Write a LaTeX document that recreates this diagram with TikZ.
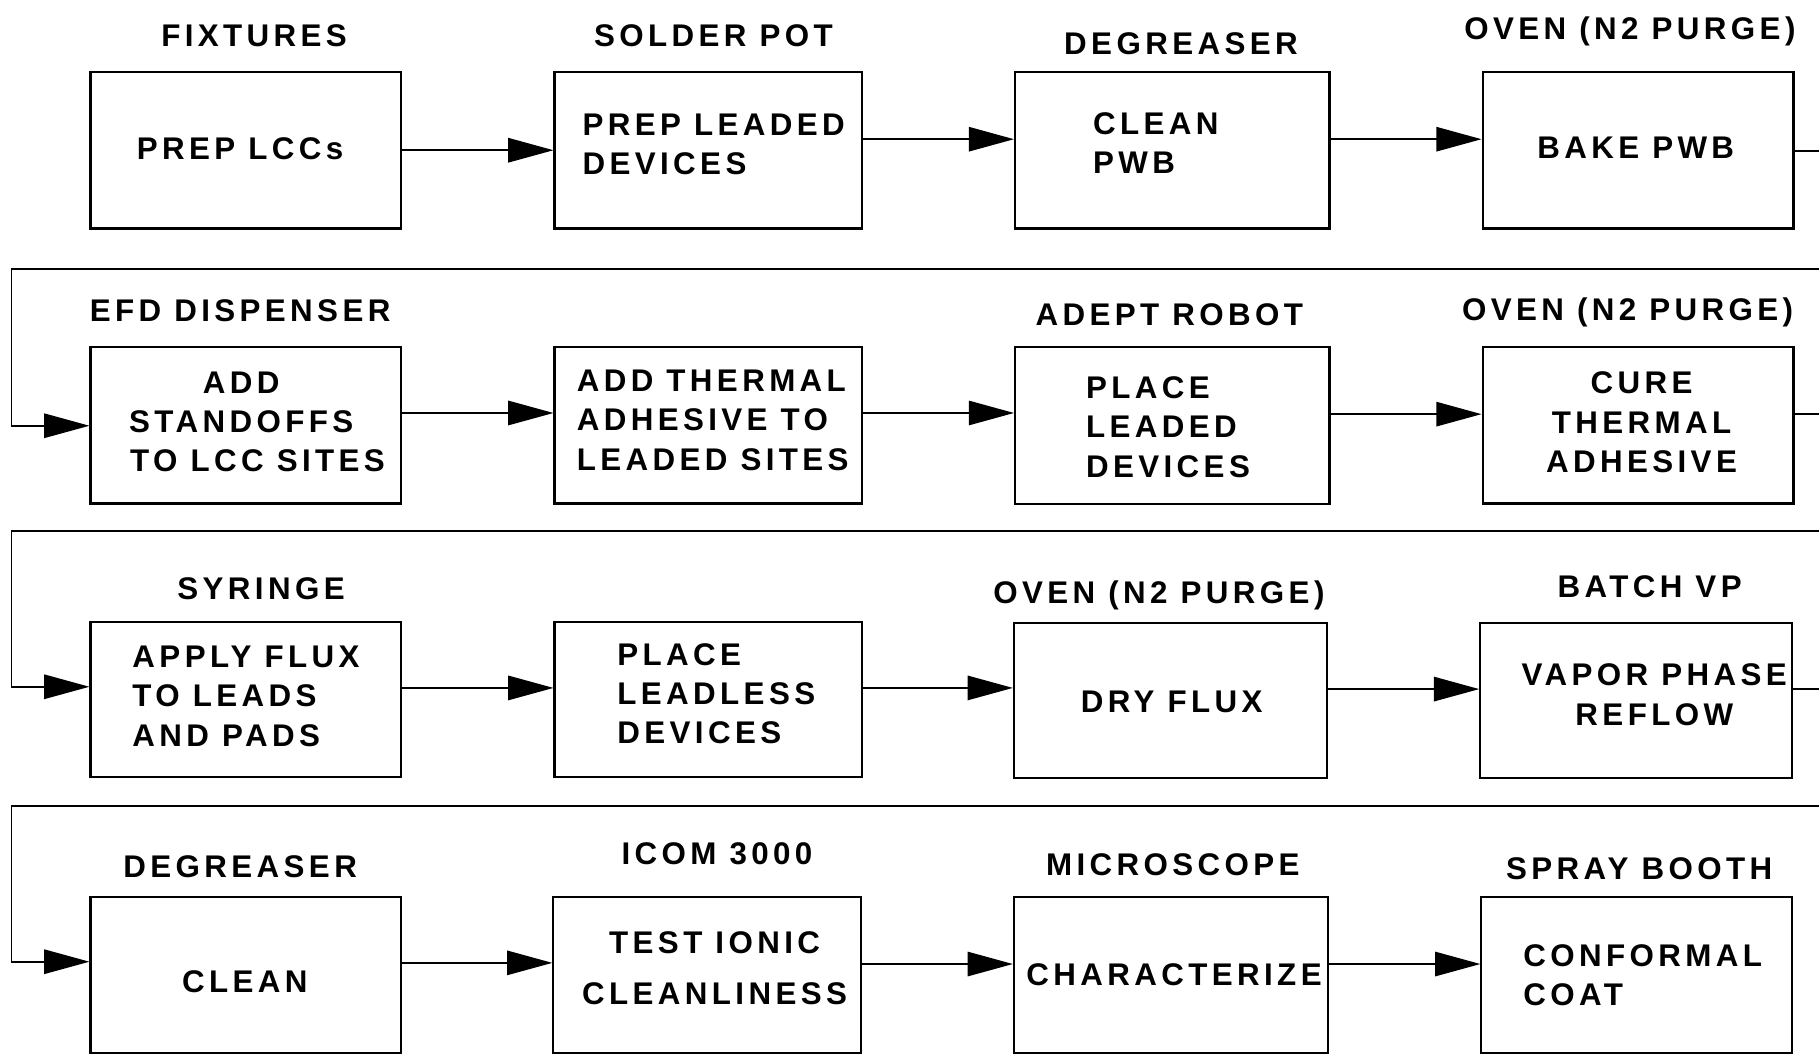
\documentclass[tikz,border=0pt]{standalone}
\usepackage{fontspec}
\setmainfont{Liberation Sans}[LetterSpace=14]
\usetikzlibrary{arrows.meta}
\tikzset{
  box/.style={draw, line width=1.8pt, minimum height=135, inner sep=0pt},
  txt/.style={inner sep=0pt, font=\fontsize{27}{34}\selectfont\bfseries},
  lbl/.style={inner sep=0pt, anchor=base, font=\fontsize{27}{34}\selectfont\bfseries},
  arr/.style={line width=1.5pt, -{Triangle[length=39pt, width=21pt]}},
  ln/.style={line width=1.5pt}
}
\begin{document}
\begin{tikzpicture}[x=1pt, y=-1pt]
\useasboundingbox (0,0) rectangle (1568,909);
\clip (0,0) rectangle (1568,909);
% ---------- row 1
\node[box, minimum width=268] (b1) at (212,129.5) {};
\node[box, minimum width=265] (b2) at (610.5,129.5) {};
\node[box, minimum width=271] (b3) at (1010.5,129.5) {};
\node[box, minimum width=268] (b4) at (1412,129.5) {};
\node[lbl] (lb1) at (219,40) {FIXTURES};
\node[lbl] (lb2) at (615,40) {SOLDER POT};
\node[lbl] (lb3) at (1018,47) {DEGREASER};
\node[lbl] (lb4) at (1405,34) {OVEN (N2 PURGE)};
\node[txt] (tb1) at (207,128) {PREP LCCs};
\node[txt, align=left, anchor=west] (tb2) at (502,124.5) {PREP LEADED\\DEVICES};
\node[txt, align=left, anchor=west] (tb3) at (942,123.5) {CLEAN\\PWB};
\node[txt] (tb4) at (1410,127) {BAKE PWB};
% ---------- row 2
\node[box, minimum width=268] (c1) at (212,366.5) {};
\node[box, minimum width=265] (c2) at (610.5,366.5) {};
\node[box, minimum width=271] (c3) at (1010.5,367) {};
\node[box, minimum width=268] (c4) at (1412,366.5) {};
\node[lbl] (lc1) at (207,277) {EFD DISPENSER};
\node[lbl] (lc3) at (1008,281) {ADEPT ROBOT};
\node[lbl] (lc4) at (1403,276) {OVEN (N2 PURGE)};
\node[txt, align=center] (tc1) at (208,363.7) {ADD\\STANDOFFS\\\hspace*{28pt}TO LCC SITES};
\node[txt, align=left, anchor=west] (tc2) at (497,362) {ADD THERMAL\\ADHESIVE TO\\LEADED SITES};
\node[txt, align=left, anchor=west] (tc3) at (936,368) {PLACE\\LEADED\\DEVICES};
\node[txt, align=center] (tc4) at (1415,364) {CURE\\THERMAL\\ADHESIVE};
% ---------- row 3
\node[box, minimum width=268, minimum height=134] (d1) at (212,603) {};
\node[box, minimum width=265, minimum height=134] (d2) at (610.5,603) {};
\node[box, minimum width=270, minimum height=134] (d3) at (1009,604) {};
\node[box, minimum width=269, minimum height=134] (d4) at (1410.5,604) {};
\node[lbl] (ld1) at (225,517) {SYRINGE};
\node[lbl] (ld3) at (999,520) {OVEN (N2 PURGE)};
\node[lbl] (ld4) at (1422,515) {BATCH VP};
\node[txt, align=left, anchor=west] (td1) at (114,600) {APPLY FLUX\\TO LEADS\\AND PADS};
\node[txt, align=left, anchor=west] (td2) at (532,598) {PLACE\\LEADLESS\\DEVICES};
\node[txt] (td3) at (1010,605) {DRY FLUX};
\node[txt, align=center] (td4) at (1426,599) {VAPOR PHASE\\REFLOW};
% ---------- row 4
\node[box, minimum width=268] (e1) at (212,840.5) {};
\node[box, minimum width=265] (e2) at (609.5,840.5) {};
\node[box, minimum width=271] (e3) at (1009.5,840.5) {};
\node[box, minimum width=268] (e4) at (1411,840.5) {};
\node[lbl] (le1) at (207,756) {DEGREASER};
\node[lbl] (le2) at (618,745) {ICOM 3000};
\node[lbl] (le3) at (1011,755) {MICROSCOPE};
\node[lbl] (le4) at (1413,758) {SPRAY BOOTH};
\node[txt] (te1) at (211,846) {CLEAN};
\node[txt, align=center] (te2) at (616,835) {TEST IONIC\\[10pt]CLEANLINESS};
\node[txt] (te3) at (1012,840) {CHARACTERIZE};
\node[txt, align=left, anchor=west] (te4) at (1313,840.5) {CONFORMAL\\COAT};
% ---------- coordinates for the off-page returns
\coordinate (r1) at (1600,130);
\coordinate (r2) at (1600,357);
\coordinate (r3) at (1600,594);
\coordinate (l1) at (10,232);
\coordinate (l2) at (10,458);
\coordinate (l3) at (10,695);
% ---------- connectors row 1
\draw[arr] (b1.east) -- (b2.west);
\draw[arr] (b2.east |- 0,120) -- (b3.west |- 0,120);
\draw[arr] (b3.east |- 0,120) -- (b4.west |- 0,120);
\draw[arr] (b4.east |- 0,130) -- (r1) -- (r1 |- l1) -- (l1) |- (c1.west |- 0,367);
% ---------- row 2
\draw[arr] (c1.east |- 0,356) -- (c2.west |- 0,356);
\draw[arr] (c2.east |- 0,356) -- (c3.west |- 0,356);
\draw[arr] (c3.east |- 0,357) -- (c4.west |- 0,357);
\draw[arr] (c4.east |- 0,357) -- (r2) -- (r2 |- l2) -- (l2) |- (d1.west |- 0,592);
% ---------- row 3
\draw[arr] (d1.east |- 0,593) -- (d2.west |- 0,593);
\draw[arr] (d2.east |- 0,593) -- (d3.west |- 0,593);
\draw[arr] (d3.east |- 0,594) -- (d4.west |- 0,594);
\draw[arr] (d4.east |- 0,594) -- (r3) -- (r3 |- l3) -- (l3) |- (e1.west |- 0,829);
% ---------- row 4
\draw[arr] (e1.east |- 0,830) -- (e2.west |- 0,830);
\draw[arr] (e2.east |- 0,831) -- (e3.west |- 0,831);
\draw[arr] (e3.east |- 0,831) -- (e4.west |- 0,831);
\end{tikzpicture}
\end{document}
